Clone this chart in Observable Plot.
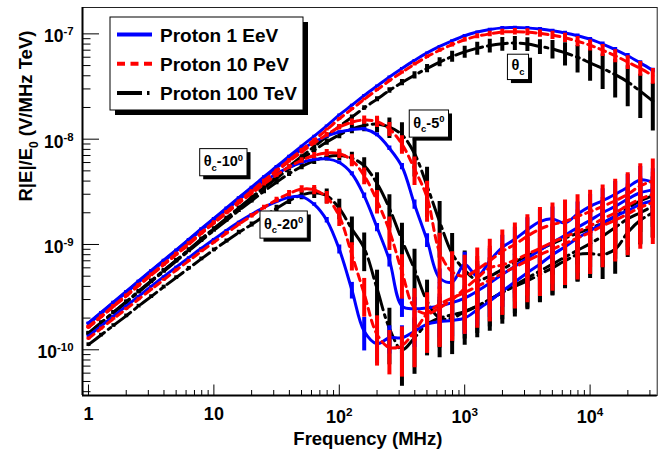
<!DOCTYPE html>
<html><head><meta charset="utf-8">
<script src="https://cdn.jsdelivr.net/npm/d3@7"></script>
<script src="https://cdn.jsdelivr.net/npm/@observablehq/plot@0.6"></script>
<style>
body{margin:0;background:#fff;}
svg{font-family:"Liberation Sans",Arial,Helvetica,sans-serif;background:#fff;}
</style>
</head><body><div id="chart"></div>
<script>
// ---------- data ----------
const freq = [1,1.26,1.58,2,2.51,3.16,3.98,5.01,6.31,7.94,
10,12.6,15.8,20,25.1,31.6,39.8,50.1,63.1,79.4,
100,126,158,200,251,316,398,501,631,794,
1000,1259,1585,1995,2512,3162,3981,5012,6310,7943,
10000,12589,15849,19953,25119,31623];

// Proton 1 EeV (blue)
const B0 = [1.80e-10,2.26e-10,2.84e-10,3.58e-10,4.50e-10,5.65e-10,7.10e-10,8.90e-10,1.12e-9,1.41e-9,
1.77e-9,2.22e-9,2.79e-9,3.50e-9,4.40e-9,5.50e-9,6.90e-9,8.60e-9,1.07e-8,1.34e-8,
1.70e-8,2.10e-8,2.60e-8,3.20e-8,3.90e-8,4.70e-8,5.60e-8,6.60e-8,7.60e-8,8.60e-8,
9.60e-8,1.04e-7,1.10e-7,1.14e-7,1.15e-7,1.14e-7,1.11e-7,1.07e-7,1.02e-7,9.60e-8,
8.90e-8,8.00e-8,7.10e-8,6.20e-8,5.30e-8,4.50e-8];
const B5 = [1.78e-10,2.24e-10,2.81e-10,3.54e-10,4.45e-10,5.60e-10,7.00e-10,8.80e-10,1.11e-9,1.39e-9,
1.75e-9,2.19e-9,2.75e-9,3.45e-9,4.30e-9,5.35e-9,6.60e-9,8.00e-9,9.40e-9,1.07e-8,
1.17e-8,1.23e-8,1.25e-8,1.10e-8,8.20e-9,5.50e-9,2.40e-9,1.10e-9,4.80e-10,4.40e-10,
6.50e-10,5.00e-10,7.00e-10,9.40e-10,1.12e-9,1.38e-9,1.65e-9,1.75e-9,1.60e-9,1.95e-9,
2.30e-9,2.60e-9,3.00e-9,3.50e-9,4.10e-9,3.90e-9];
const B10 = [1.76e-10,2.21e-10,2.78e-10,3.50e-10,4.40e-10,5.52e-10,6.93e-10,8.70e-10,1.09e-9,1.37e-9,
1.71e-9,2.14e-9,2.66e-9,3.28e-9,3.98e-9,4.70e-9,5.40e-9,6.00e-9,6.40e-9,6.50e-9,
6.00e-9,4.70e-9,2.90e-9,1.45e-9,7.10e-10,2.60e-10,2.45e-10,2.50e-10,2.60e-10,2.80e-10,
3.10e-10,3.60e-10,4.30e-10,5.20e-10,6.20e-10,7.40e-10,8.80e-10,1.05e-9,1.22e-9,1.45e-9,
1.70e-9,2.00e-9,2.30e-9,2.70e-9,3.10e-9,3.30e-9];
const B20 = [1.35e-10,1.68e-10,2.08e-10,2.60e-10,3.22e-10,4.00e-10,4.95e-10,6.10e-10,7.50e-10,9.20e-10,
1.12e-9,1.36e-9,1.63e-9,1.93e-9,2.25e-9,2.55e-9,2.80e-9,2.85e-9,2.40e-9,1.70e-9,
9.00e-10,3.70e-10,1.50e-10,1.14e-10,1.30e-10,1.30e-10,1.50e-10,1.75e-10,1.85e-10,1.90e-10,
2.00e-10,2.40e-10,2.90e-10,3.60e-10,4.40e-10,5.40e-10,6.50e-10,8.00e-10,9.50e-10,1.15e-9,
1.35e-9,1.60e-9,1.85e-9,2.10e-9,2.40e-9,2.60e-9];

// Proton 10 PeV (red)
const R0 = [1.66e-10,2.08e-10,2.61e-10,3.29e-10,4.14e-10,5.20e-10,6.53e-10,8.20e-10,1.03e-9,1.30e-9,
1.63e-9,2.04e-9,2.57e-9,3.22e-9,4.05e-9,5.06e-9,6.35e-9,7.90e-9,9.85e-9,1.23e-8,
1.56e-8,1.93e-8,2.39e-8,2.94e-8,3.59e-8,4.32e-8,5.15e-8,6.07e-8,6.99e-8,7.90e-8,
8.80e-8,9.50e-8,1.00e-7,1.04e-7,1.05e-7,1.04e-7,1.01e-7,9.70e-8,9.20e-8,8.50e-8,
7.80e-8,7.00e-8,6.20e-8,5.40e-8,4.70e-8,4.00e-8];
const R5 = [1.64e-10,2.06e-10,2.59e-10,3.26e-10,4.10e-10,5.15e-10,6.47e-10,8.10e-10,1.02e-9,1.29e-9,
1.61e-9,2.02e-9,2.54e-9,3.18e-9,3.98e-9,4.95e-9,6.15e-9,7.55e-9,9.20e-9,1.10e-8,
1.30e-8,1.45e-8,1.52e-8,1.47e-8,1.25e-8,9.00e-9,5.20e-9,2.80e-9,8.50e-10,5.50e-10,
5.00e-10,5.80e-10,7.00e-10,8.60e-10,1.00e-9,1.20e-9,1.40e-9,1.55e-9,1.65e-9,1.85e-9,
2.05e-9,2.30e-9,2.60e-9,3.00e-9,3.60e-9,4.00e-9];
const R10 = [1.63e-10,2.05e-10,2.57e-10,3.23e-10,4.06e-10,5.10e-10,6.40e-10,8.00e-10,1.00e-9,1.27e-9,
1.59e-9,1.98e-9,2.47e-9,3.05e-9,3.75e-9,4.55e-9,5.45e-9,6.30e-9,7.00e-9,7.40e-9,
7.30e-9,6.30e-9,4.50e-9,2.60e-9,1.35e-9,5.50e-10,2.50e-10,2.20e-10,2.50e-10,3.00e-10,
3.80e-10,4.80e-10,6.00e-10,6.40e-10,7.10e-10,8.10e-10,9.20e-10,1.05e-9,1.18e-9,1.33e-9,
1.50e-9,1.75e-9,2.00e-9,2.35e-9,2.70e-9,3.00e-9];
const R20 = [1.28e-10,1.59e-10,1.97e-10,2.44e-10,3.02e-10,3.74e-10,4.62e-10,5.70e-10,7.00e-10,8.60e-10,
1.05e-9,1.28e-9,1.55e-9,1.87e-9,2.25e-9,2.65e-9,3.05e-9,3.35e-9,3.30e-9,2.80e-9,
1.85e-9,8.00e-10,3.40e-10,1.40e-10,1.05e-10,1.10e-10,1.50e-10,2.20e-10,2.70e-10,3.10e-10,
3.50e-10,4.00e-10,4.60e-10,5.30e-10,6.10e-10,7.00e-10,8.00e-10,9.00e-10,1.02e-9,1.15e-9,
1.30e-9,1.50e-9,1.70e-9,1.95e-9,2.25e-9,2.50e-9];

// Proton 100 TeV (black)
const K0 = [1.44e-10,1.81e-10,2.27e-10,2.86e-10,3.60e-10,4.52e-10,5.68e-10,7.10e-10,8.95e-10,1.13e-9,
1.42e-9,1.78e-9,2.23e-9,2.80e-9,3.50e-9,4.40e-9,5.50e-9,6.85e-9,8.50e-9,1.06e-8,
1.32e-8,1.62e-8,1.98e-8,2.40e-8,2.90e-8,3.45e-8,4.05e-8,4.70e-8,5.40e-8,6.10e-8,
6.75e-8,7.30e-8,7.75e-8,8.05e-8,8.20e-8,8.00e-8,7.60e-8,7.20e-8,6.60e-8,6.00e-8,
5.30e-8,4.70e-8,4.10e-8,3.50e-8,2.85e-8,2.30e-8];
const K5 = [1.43e-10,1.80e-10,2.26e-10,2.84e-10,3.57e-10,4.48e-10,5.62e-10,7.05e-10,8.85e-10,1.11e-9,
1.40e-9,1.75e-9,2.19e-9,2.74e-9,3.42e-9,4.25e-9,5.25e-9,6.45e-9,7.85e-9,9.40e-9,
1.10e-8,1.25e-8,1.35e-8,1.39e-8,1.30e-8,1.10e-8,7.30e-9,3.60e-9,1.65e-9,8.20e-10,
5.70e-10,4.60e-10,5.00e-10,5.80e-10,6.80e-10,7.80e-10,9.00e-10,1.02e-9,1.15e-9,1.28e-9,
1.42e-9,1.60e-9,1.85e-9,2.20e-9,2.60e-9,2.90e-9];
const K10 = [1.42e-10,1.78e-10,2.24e-10,2.81e-10,3.53e-10,4.43e-10,5.55e-10,6.95e-10,8.70e-10,1.09e-9,
1.36e-9,1.69e-9,2.10e-9,2.60e-9,3.20e-9,3.90e-9,4.70e-9,5.50e-9,6.25e-9,6.80e-9,
7.00e-9,6.60e-9,5.60e-9,3.80e-9,2.20e-9,1.10e-9,5.80e-10,2.90e-10,2.00e-10,2.00e-10,
2.30e-10,2.60e-10,3.00e-10,3.50e-10,4.10e-10,4.80e-10,5.60e-10,6.50e-10,7.60e-10,8.80e-10,
1.02e-9,1.20e-9,1.45e-9,1.75e-9,2.00e-9,2.30e-9];
const K20 = [1.12e-10,1.38e-10,1.70e-10,2.10e-10,2.60e-10,3.20e-10,3.95e-10,4.85e-10,5.95e-10,7.30e-10,
8.90e-10,1.08e-9,1.30e-9,1.55e-9,1.85e-9,2.20e-9,2.60e-9,2.95e-9,3.10e-9,2.90e-9,
2.20e-9,1.40e-9,9.20e-10,3.80e-10,1.60e-10,1.00e-10,1.30e-10,1.75e-10,2.00e-10,2.15e-10,
2.30e-10,2.60e-10,3.00e-10,3.50e-10,4.00e-10,4.50e-10,5.20e-10,6.00e-10,7.00e-10,8.00e-10,
8.20e-10,8.00e-10,9.00e-10,1.30e-9,1.70e-9,2.00e-9];

// relative errors (fraction of value)
const eB0 = [.02,.02,.02,.02,.02,.02,.02,.02,.02,.02, .02,.02,.02,.02,.02,.02,.02,.02,.02,.02,
.02,.02,.02,.02,.02,.02,.02,.02,.02,.02, .025,.025,.03,.03,.03,.03,.035,.035,.04,.04, .04,.045,.045,.05,.05,.05];
const eB5 = [.02,.02,.02,.02,.02,.02,.02,.02,.02,.02, .02,.02,.02,.02,.02,.02,.02,.02,.02,.02,
.025,.03,.035,.04,.05,.07,.1,.15,.22,.28, .3,.3,.3,.3,.3,.3,.3,.3,.3,.3, .3,.3,.32,.32,.34,.34];
const eB10 = [.02,.02,.02,.02,.02,.02,.02,.02,.02,.02, .02,.02,.02,.02,.02,.02,.02,.02,.025,.03,
.035,.045,.06,.09,.14,.22,.28,.3,.3,.3, .3,.3,.3,.3,.3,.3,.3,.3,.3,.3, .3,.3,.32,.32,.34,.34];
const eB20 = [.02,.02,.02,.02,.02,.02,.02,.02,.02,.02, .02,.02,.02,.02,.02,.02,.025,.03,.04,.06,
.1,.18,.35,.35,.3,.3,.3,.3,.3,.3, .3,.3,.3,.3,.3,.3,.3,.3,.3,.3, .3,.3,.3,.3,.32,.32];
const eR0 = [.03,.03,.03,.03,.03,.03,.03,.03,.03,.03, .03,.03,.03,.03,.03,.03,.03,.03,.03,.03,
.03,.03,.03,.03,.03,.035,.04,.04,.045,.05, .05,.055,.06,.065,.07,.075,.08,.09,.1,.11, .12,.13,.14,.15,.16,.17];
const eR5 = [.03,.03,.03,.03,.03,.03,.03,.03,.03,.03, .03,.03,.03,.03,.03,.03,.035,.04,.045,.05,
.06,.07,.09,.12,.15,.2,.3,.42,.5,.55, .58,.6,.6,.6,.6,.6,.6,.6,.6,.6, .6,.6,.6,.6,.62,.62];
const eR10 = [.03,.03,.03,.03,.03,.03,.03,.03,.03,.03, .03,.03,.03,.035,.04,.045,.05,.06,.07,.08,
.1,.13,.18,.25,.35,.45,.52,.56,.58,.6, .6,.6,.6,.6,.6,.6,.6,.6,.6,.6, .6,.6,.6,.6,.62,.62];
const eR20 = [.03,.03,.03,.03,.03,.03,.03,.03,.03,.03, .03,.035,.04,.045,.05,.06,.07,.08,.1,.14,
.2,.3,.4,.5,.45,.5,.55,.58,.6,.6, .6,.6,.6,.6,.6,.6,.6,.6,.6,.6, .6,.6,.6,.6,.6,.6];
const eK0 = [.04,.04,.04,.04,.04,.04,.04,.04,.04,.04, .04,.04,.04,.04,.04,.04,.04,.04,.04,.04,
.045,.05,.05,.055,.06,.07,.08,.09,.1,.12, .13,.14,.15,.15,.15,.15,.16,.2,.25,.29, .33,.37,.4,.42,.45,.48];
const eK5 = [.04,.04,.04,.04,.04,.04,.04,.04,.04,.04, .04,.04,.04,.04,.04,.04,.045,.05,.06,.07,
.08,.1,.13,.17,.22,.3,.4,.5,.55,.55, .52,.5,.5,.5,.5,.5,.5,.5,.5,.5, .5,.5,.5,.5,.5,.5];
const eK10 = [.04,.04,.04,.04,.04,.04,.04,.04,.04,.04, .04,.04,.04,.045,.05,.055,.06,.07,.08,.09,
.11,.14,.19,.26,.35,.45,.55,.58,.58,.55, .52,.5,.5,.5,.5,.5,.5,.5,.5,.5, .5,.5,.5,.5,.5,.5];
const eK20 = [.04,.04,.04,.04,.04,.04,.04,.04,.04,.04, .04,.045,.05,.055,.06,.07,.08,.1,.12,.16,
.22,.3,.4,.5,.55,.55,.55,.5,.48,.46, .45,.45,.45,.45,.45,.45,.45,.45,.45,.45, .42,.42,.42,.42,.42,.42];

const energies = ["Proton 1 EeV", "Proton 10 PeV", "Proton 100 TeV"];
const energyColors = ["#0000ff", "#ff0000", "#000000"];
const energyDash = [null, "7,5", "20,5,3,5"];
const legendDash = [null, "8,5.5", "25,5,2.5,5"];
const angles = ["θc", "θc-5°", "θc-10°", "θc-20°"];
const values = [[B0, B5, B10, B20], [R0, R5, R10, R20], [K0, K5, K10, K20]];
const errors = [[eB0, eB5, eB10, eB20], [eR0, eR5, eR10, eR20], [eK0, eK5, eK10, eK20]];
const drawOrder = [2, 0, 1]; // black, blue, red

// axis ticks and labels
const xMajor = [1, 10, 100, 1000, 10000];
const xTickLabels = ["1", "10", "10^{2}", "10^{3}", "10^{4}"];
const yMajor = [1e-10, 1e-9, 1e-8, 1e-7];
const yTickLabels = ["10^{-10}", "10^{-9}", "10^{-8}", "10^{-7}"];
const xTitle = "Frequency (MHz)";
const yTitle = "R|E|/E_{0} (V/MHz TeV)";

// annotation labels
const annoText = ["θ_{c}", "θ_{c}-5^{0}", "θ_{c}-10^{0}", "θ_{c}-20^{0}"];
const annoFreq = [2660, 518, 11.9, 36];
const annoValue = [5.0e-8, 1.42e-8, 6.1e-9, 1.56e-9];

// ---------- layout ----------
const W = 663, H = 451, mL = 82, mR = 6.3, mT = 7, mB = 56;
const X0 = 0.896, X1 = 34280, Y0 = 3.68e-11, Y1 = 1.78e-7;
const pxDecY = (H - mT - mB) / Math.log10(Y1 / Y0);
const pxDecX = (W - mL - mR) / Math.log10(X1 / X0);
const upY = px => Y0 * Math.pow(10, px / pxDecY);
const rightX = px => X0 * Math.pow(10, px / pxDecX);
const isDecade = t => Math.abs(Math.log10(t) - Math.round(Math.log10(t))) < 1e-6;
const xMinor = d3.scaleLog().domain([X0, X1]).ticks().filter(t => !isDecade(t) && t >= X0 && t <= X1);
const yMinor = d3.scaleLog().domain([Y0, Y1]).ticks().filter(t => !isDecade(t) && t >= Y0 && t <= Y1);

// rows
const rows = [];
values.forEach((group, ei) => group.forEach((arr, ai) => arr.forEach((v, k) => {
  const e = errors[ei][ai][k] * v;
  rows.push({energy: ei, s: ei + "-" + ai, f: freq[k], v, lo: v - e, hi: v + e});
})));

const curveMarks = [];
for (const ei of drawOrder) {
  const d = rows.filter(r => r.energy === ei);
  curveMarks.push(Plot.ruleX(d, {x: "f", y1: "lo", y2: "hi", stroke: energyColors[ei], strokeWidth: 4, clip: true}));
  curveMarks.push(Plot.line(d, {x: "f", y: "v", z: "s", stroke: energyColors[ei], strokeWidth: 3,
    strokeDasharray: energyDash[ei], curve: "catmull-rom", clip: true}));
}

const xTickData = xMajor.map((v, i) => ({v, label: xTickLabels[i]}));
const annoData = annoText.map((t, i) => ({t, f: annoFreq[i], v: annoValue[i]}));

const svgNode = Plot.plot({
  width: W, height: H, marginLeft: mL, marginRight: mR, marginTop: mT, marginBottom: mB,
  x: {type: "log", domain: [X0, X1], axis: null},
  y: {type: "log", domain: [Y0, Y1], axis: null},
  style: {fontFamily: "'Liberation Sans', Arial, sans-serif", background: "#fff", color: "#000"},
  marks: [
    ...curveMarks,
    Plot.frame({stroke: "#222", strokeWidth: 1}),
    Plot.ruleX([X0], {stroke: "#000", strokeWidth: 2}),
    Plot.ruleY([Y0], {stroke: "#000", strokeWidth: 2}),
    // x ticks (inside)
    Plot.link(xMinor, {x1: d => d, x2: d => d, y1: () => Y0, y2: () => upY(5.5), stroke: "#000", strokeWidth: 1}),
    Plot.link(xMajor, {x1: d => d, x2: d => d, y1: () => Y0, y2: () => upY(11), stroke: "#000", strokeWidth: 1}),
    // y ticks (inside)
    Plot.link(yMinor, {y1: d => d, y2: d => d, x1: () => X0, x2: () => rightX(8), stroke: "#000", strokeWidth: 1}),
    Plot.link(yMajor, {y1: d => d, y2: d => d, x1: () => X0, x2: () => rightX(16.5), stroke: "#000", strokeWidth: 1}),
    // tick labels
    Plot.text(xTickData.filter(d => !d.label.includes("^")), {x: "v", y: () => Y0, text: "label", dy: 19, fontSize: 18, fontWeight: "bold", textAnchor: "middle", lineAnchor: "middle"}),
    Plot.text(xTickData.filter(d => d.label.includes("^")), {x: "v", y: () => Y0, text: "label", dy: 22, fontSize: 18, fontWeight: "bold", textAnchor: "middle", lineAnchor: "middle"}),
    Plot.text(yMajor, {x: () => X0, y: d => d, text: (d, i) => yTickLabels[i], dx: -9, dy: 3, fontSize: 17.5, fontWeight: "bold", textAnchor: "end", lineAnchor: "middle"}),
    // axis titles
    Plot.text([xTitle], {frameAnchor: "bottom", dy: 44, dx: -2, fontSize: 18.5, fontWeight: "bold", lineAnchor: "middle"}),
    Plot.text([yTitle], {frameAnchor: "left", dx: -56, rotate: -90, fontSize: 18.5, fontWeight: "bold", lineAnchor: "middle"}),
    // annotations
    Plot.text(annoData, {x: "f", y: "v", text: "t", fontSize: 14.5, fontWeight: "bold", textAnchor: "middle", lineAnchor: "middle"})
  ]
});
document.getElementById("chart").append(svgNode);

// ---------- post-processing: super/subscripts ----------
const SVGNS = "http://www.w3.org/2000/svg";
function applyMarkup(el, str) {
  const fs = parseFloat(getComputedStyle(el).fontSize) || 16;
  const segs = [];
  const re = /([_^])\{([^}]*)\}/g;
  let last = 0, m;
  while ((m = re.exec(str))) {
    if (m.index > last) segs.push({t: str.slice(last, m.index), k: "n"});
    segs.push({t: m[2], k: m[1] === "^" ? "sup" : "sub"});
    last = re.lastIndex;
  }
  if (last < str.length) segs.push({t: str.slice(last), k: "n"});
  el.textContent = "";
  let shift = 0;
  for (const s of segs) {
    const ts = document.createElementNS(SVGNS, "tspan");
    const target = s.k === "sup" ? -0.4 * fs : s.k === "sub" ? 0.3 * fs : 0;
    const dy = target - shift; shift = target;
    if (dy) ts.setAttribute("dy", dy.toFixed(2));
    if (s.k !== "n") ts.setAttribute("font-size", (0.65 * fs).toFixed(2));
    ts.textContent = s.t;
    el.appendChild(ts);
  }
}
const allTexts = Array.from(svgNode.querySelectorAll("text"));
allTexts.forEach(el => {
  const s = el.textContent;
  if (s.includes("^{") || s.includes("_{")) applyMarkup(el, s);
});

// boxes behind annotation labels
allTexts.filter(el => el.textContent.startsWith("θ")).forEach(el => {
  const bb = el.getBBox();
  const padX = 4, padY = 3, sh = 3.5;
  const tr = el.getAttribute("transform") || "";
  const parent = el.parentNode;
  const mk = (dx, fill, stroke) => {
    const r = document.createElementNS(SVGNS, "rect");
    r.setAttribute("x", bb.x - padX + dx);
    r.setAttribute("y", bb.y - padY + dx);
    r.setAttribute("width", bb.width + 2 * padX);
    r.setAttribute("height", bb.height + 2 * padY);
    r.setAttribute("fill", fill);
    if (stroke) { r.setAttribute("stroke", stroke); r.setAttribute("stroke-width", 1); }
    r.setAttribute("transform", tr);
    parent.insertBefore(r, el);
  };
  mk(sh, "#000", null);
  mk(0, "#fff", "#000");
});

// ---------- legend ----------
const svg = d3.select(svgNode);
const lg = svg.append("g").attr("class", "legend").attr("text-anchor", "start");
const bx = mL + 28, by = mT + 10, bw = 193, bh = 93;
lg.append("rect").attr("x", bx + 5).attr("y", by + 5).attr("width", bw).attr("height", bh).attr("fill", "#000");
lg.append("rect").attr("x", bx).attr("y", by).attr("width", bw).attr("height", bh).attr("fill", "#fff").attr("stroke", "#000").attr("stroke-width", 1);
energies.forEach((name, i) => {
  const y = by + 17.6 + i * 29.2;
  lg.append("line").attr("x1", bx + 7).attr("x2", bx + 42).attr("y1", y).attr("y2", y)
    .attr("stroke", energyColors[i]).attr("stroke-width", 4)
    .attr("stroke-dasharray", legendDash[i]);
  lg.append("text").attr("x", bx + 50).attr("y", y + 7).attr("font-size", 19).attr("font-weight", "bold")
    .attr("text-anchor", "start").attr("fill", "#000").text(name);
});
</script>
</body></html>
